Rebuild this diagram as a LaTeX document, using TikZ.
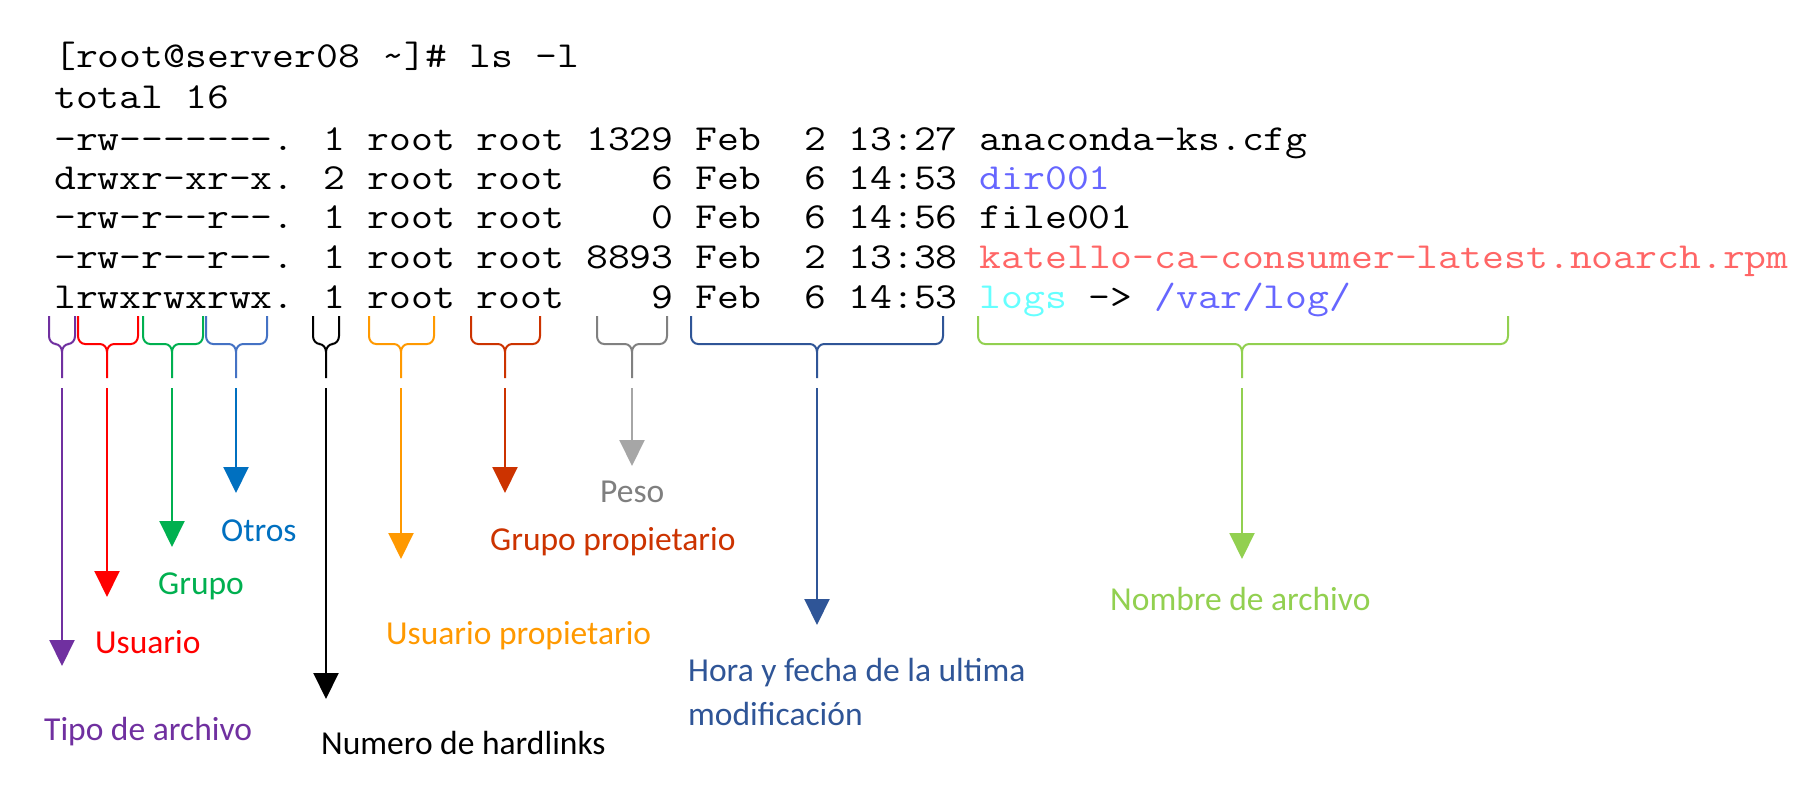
\documentclass[tikz,border=0pt]{standalone}
\usepackage{fontspec}
\newfontfamily\lab{Carlito}
\usetikzlibrary{arrows.meta}
\definecolor{cpurple}{HTML}{7030A0}
\definecolor{cred}{HTML}{FF0000}
\definecolor{cgreen}{HTML}{00B050}
\definecolor{cblue}{HTML}{0070C0}
\definecolor{cbluebr}{HTML}{4472C4}
\definecolor{corange}{HTML}{FF9900}
\definecolor{cdred}{HTML}{CC3300}
\definecolor{cgray}{HTML}{A6A6A6}
\definecolor{cgraybr}{HTML}{808080}
\definecolor{cgraytx}{HTML}{7F7F7F}
\definecolor{cdblue}{HTML}{2F5597}
\definecolor{clgreen}{HTML}{92D050}
\definecolor{tblue}{HTML}{6666FF}
\definecolor{tred}{HTML}{FF6666}
\definecolor{tcyan}{HTML}{66FFFF}
\begin{document}
\begin{tikzpicture}[x=1pt,y=1pt,
  term/.style={anchor=base west,inner sep=0pt,xscale=1.158,transform shape,font=\ttfamily\fontsize{36.66}{40}\selectfont},
  lbl/.style={anchor=base west,inner sep=0pt,font=\lab\fontsize{33.5}{44}\selectfont,align=left},
  arr/.style={line width=2pt,-{Triangle[width=25pt,length=26pt]}},
  brc/.style={line width=2pt,line join=round}]
\useasboundingbox (0,0) rectangle (1808,-809);
\fill[white] (0,0) rectangle (1808,-809);
% terminal
\node[term] (l1) at (54,-67) {[root@server08 \textasciitilde]\# ls -l};
\node[term] (l2) at (54,-108) {total 16};
\node[term] (l3) at (54,-150) {-rw-------. 1 root root 1329 Feb\ \ 2 13:27 anaconda-ks.cfg};
\node[term] (l4) at (54,-189) {drwxr-xr-x. 2 root root\ \ \ \ 6 Feb\ \ 6 14:53 \textcolor{tblue}{dir001}};
\node[term] (l5) at (54,-228) {-rw-r--r--. 1 root root\ \ \ \ 0 Feb\ \ 6 14:56 file001};
\node[term] (l6) at (54,-268) {-rw-r--r--. 1 root root 8893 Feb\ \ 2 13:38 \textcolor{tred}{katello-ca-consumer-latest.noarch.rpm}};
\node[term] (l7) at (54,-308) {lrwxrwxrwx. 1 root root\ \ \ \ 9 Feb\ \ 6 14:53 \textcolor{tcyan}{logs} -> \textcolor{tblue}{/var/log/}};
% braces: \mybrace{color}{left}{tip}{right}
\newcommand{\mybrace}[4]{%
  \draw[brc,#1] (#2,-316) -- (#2,-336) to[out=-90,in=180] (#2+7,-344) -- (#3-7,-344) to[out=0,in=90] (#3,-352) -- (#3,-378);
  \draw[brc,#1] (#4,-316) -- (#4,-336) to[out=-90,in=0] (#4-7,-344) -- (#3+7,-344) to[out=180,in=90] (#3,-352);}
\mybrace{cpurple}{49}{62}{75}
\mybrace{cred}{78}{107}{138}
\mybrace{cgreen}{143}{172}{203}
\mybrace{cbluebr}{206}{236}{267}
\mybrace{black}{313}{326}{339}
\mybrace{corange}{369}{401}{434}
\mybrace{cdred}{471}{505}{540}
\mybrace{cgraybr}{597}{632}{667}
\mybrace{cdblue}{691}{817}{943}
\mybrace{clgreen}{978}{1242}{1508}
% arrow coordinates
\coordinate (s1) at (62,-388);   \coordinate (e1) at (62,-666);
\coordinate (s2) at (107,-388);  \coordinate (e2) at (107,-597);
\coordinate (s3) at (172,-388);  \coordinate (e3) at (172,-547);
\coordinate (s4) at (236,-388);  \coordinate (e4) at (236,-493);
\coordinate (s5) at (326,-388);  \coordinate (e5) at (326,-699);
\coordinate (s6) at (401,-388);  \coordinate (e6) at (401,-559);
\coordinate (s7) at (505,-388);  \coordinate (e7) at (505,-493);
\coordinate (s8) at (632,-388);  \coordinate (e8) at (632,-466);
\coordinate (s9) at (817,-388);  \coordinate (e9) at (817,-625);
\coordinate (s10) at (1242,-388); \coordinate (e10) at (1242,-559);
\draw[arr,cpurple] (s1) -- (e1);
\draw[arr,cred] (s2) -- (e2);
\draw[arr,cgreen] (s3) -- (e3);
\draw[arr,cblue] (s4) -- (e4);
\draw[arr,black] (s5) -- (e5);
\draw[arr,corange] (s6) -- (e6);
\draw[arr,cdred] (s7) -- (e7);
\draw[arr,cgray] (s8) -- (e8);
\draw[arr,cdblue] (s9) -- (e9);
\draw[arr,clgreen] (s10) -- (e10);
% labels
\node[lbl,text=cpurple] (t1) at (44,-740) {Tipo de archivo};
\node[lbl,text=cred] (t2) at (95,-653) {Usuario};
\node[lbl,text=cgreen] (t3) at (158,-594) {Grupo};
\node[lbl,text=cblue] (t4) at (221,-541) {Otros};
\node[lbl,text=black] (t5) at (321,-754) {Numero de hardlinks};
\node[lbl,text=corange] (t6) at (386,-644) {Usuario propietario};
\node[lbl,text=cdred] (t7) at (490,-550) {Grupo propietario};
\node[lbl,text=cgraytx] (t8) at (600,-502) {Peso};
\node[lbl,text=cdblue] (t9) at (688,-725) {Hora y fecha de la ultima\\modificación};
\node[lbl,text=clgreen] (t10) at (1110,-610) {Nombre de archivo};
\end{tikzpicture}
\end{document}
